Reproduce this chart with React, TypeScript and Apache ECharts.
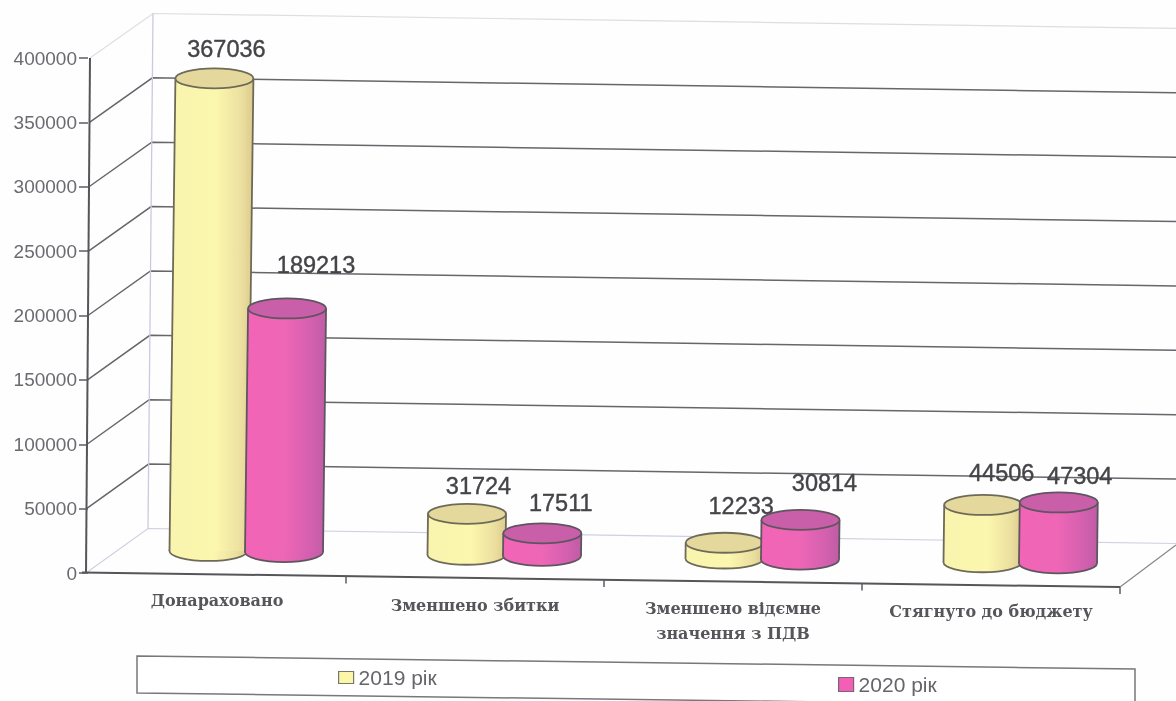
import React, { useEffect, useRef } from "react";
import * as echarts from "echarts";

const categories = [
  "Донараховано",
  "Зменшено збитки",
  "Зменшено відємне\nзначення з ПДВ",
  "Стягнуто до бюджету",
];
const series2019 = [367036, 31724, 12233, 44506];
const series2020 = [189213, 17511, 30814, 47304];
const yTicks = [0, 50000, 100000, 150000, 200000, 250000, 300000, 350000, 400000];
const seriesNames = ["2019 рік", "2020 рік"];

const GRID = { left: 88, top: 58, width: 1032, height: 515 };
const SLOPE = 0.0146;
const FRONT_SLOPE = 0.0136;
const DEPTH = 23.8;
const RX = 39;
const RY = 10;
const LEAN = 0.0125;
const RIGHT_EDGE = 1176;
const CAT_LABEL_PAD = [0, 5, 8, 11];

const LOOK = [
  {
    offset: -8.5,
    body: [
      [0, "#f9f4ae"],
      [0.55, "#fcf7ae"],
      [0.85, "#ece0a0"],
      [1, "#dccb8c"],
    ],
    top: "#e5d89c",
    edge: "#6e6a58",
    labels: [
      [12, -29.4],
      [11.5, -27.9],
      [16.5, -36.8],
      [18.5, -32],
    ],
  },
  {
    offset: 67,
    body: [
      [0, "#f264b6"],
      [0.5, "#ee66b6"],
      [0.85, "#d060ae"],
      [1, "#bf5ca6"],
    ],
    top: "#c85fa8",
    edge: "#5f5560",
    labels: [
      [29, -43.5],
      [18.5, -30.3],
      [24, -36.9],
      [21, -26.5],
    ],
  },
];

const cylinderItem = (look: (typeof LOOK)[number]) => (params: any, api: any) => {
  const cat = api.value(0);
  const v = api.value(1);
  const zero = api.coord([cat, 0]);
  const h = zero[1] - api.coord([cat, v])[1];
  const bx = zero[0] + look.offset;
  const by = zero[1] - DEPTH + (bx - GRID.left) * SLOPE;
  const tx = bx + h * LEAN;
  const ty = by - h;
  const body = new echarts.graphic.LinearGradient(
    0,
    0,
    1,
    0,
    look.body.map(([offset, color]) => ({ offset: offset as number, color: color as string }))
  );
  const edge = { stroke: look.edge, lineWidth: 1.8 };
  const lab = look.labels[params.dataIndex];
  return {
    type: "group",
    children: [
      { type: "ellipse", shape: { cx: bx, cy: by, rx: RX, ry: RY }, style: { fill: body, ...edge } },
      {
        type: "polygon",
        shape: {
          points: [
            [bx - RX, by],
            [tx - RX, ty],
            [tx + RX, ty],
            [bx + RX, by],
          ],
        },
        style: { fill: body },
      },
      { type: "line", shape: { x1: bx - RX, y1: by, x2: tx - RX, y2: ty }, style: edge },
      { type: "line", shape: { x1: bx + RX, y1: by, x2: tx + RX, y2: ty }, style: edge },
      { type: "ellipse", shape: { cx: tx, cy: ty, rx: RX, ry: RY }, style: { fill: look.top, ...edge } },
      {
        type: "text",
        style: {
          text: String(v),
          x: tx + lab[0],
          y: ty + lab[1],
          align: "center",
          verticalAlign: "middle",
          font: "23.5px 'Liberation Sans', Arial, sans-serif",
          fill: "#444448",
          stroke: "#444448",
          lineWidth: 0.4,
        },
      },
    ],
  };
};

const wallItem = (_: any, api: any) => {
  const v = api.value(0);
  const y = api.coord([0, v])[1];
  const frac = v / 400000;
  const fx = 86 + 4 * frac;
  const bx = 148 + 5 * frac;
  const by = y - 44.5;
  const edge = v === 0 || v === 400000;
  const color = v === 400000 ? "#dddde4" : edge ? "#cfd0e2" : "#66666c";
  const width = edge ? 1.2 : 1.5;
  return {
    type: "group",
    children: [
      {
        type: "polyline",
        shape: {
          points: [
            [fx, y],
            [bx, by],
            [RIGHT_EDGE, by + (RIGHT_EDGE - bx) * SLOPE],
          ],
        },
        style: { fill: "none", stroke: color, lineWidth: width },
      },
    ],
  };
};

const frameItem = (_: any, api: any) => {
  const y0 = api.coord([0, 0])[1];
  const y1 = api.coord([0, 400000])[1];
  const dark = { stroke: "#55555a", lineWidth: 2 };
  const end = GRID.left + GRID.width;
  const endY = y0 + GRID.width * FRONT_SLOPE;
  const ticks = [1, 2, 3, 4].map((i) => {
    const x = GRID.left + (GRID.width * i) / 4;
    const yy = y0 + (x - GRID.left) * FRONT_SLOPE;
    return { type: "line", shape: { x1: x, y1: yy, x2: x, y2: yy + 7 }, style: { stroke: "#5c5c62", lineWidth: 1.5 } };
  });
  return {
    type: "group",
    children: [
      { type: "line", shape: { x1: 148, y1: y0 - 44.5, x2: 153, y2: y1 - 44.5 }, style: { stroke: "#c9cadf", lineWidth: 1.3 } },
      { type: "line", shape: { x1: end, y1: endY, x2: RIGHT_EDGE, y2: endY - 42 }, style: { stroke: "#85858a", lineWidth: 1.2 } },
      { type: "line", shape: { x1: 86, y1: y0, x2: 90, y2: y1 }, style: dark },
      { type: "line", shape: { x1: 82, y1: y0 - 0.5, x2: end, y2: endY }, style: dark },
      ...ticks,
    ],
  };
};

export default function App() {
  const ref = useRef<HTMLDivElement>(null);
  useEffect(() => {
    const chart = echarts.init(ref.current!, null, { renderer: "svg" });
    chart.setOption({
      animation: false,
      backgroundColor: "#fefefe",
      grid: GRID,
      xAxis: {
        type: "category",
        data: categories.map((value, i) => ({
          value,
          textStyle: { padding: [CAT_LABEL_PAD[i], 0, 0, 0] },
        })),
        axisLine: { show: false },
        axisTick: { show: false },
        splitLine: { show: false },
        axisLabel: {
          interval: 0,
          margin: 15,
          lineHeight: 25,
          align: "center",
          fontFamily: "'DejaVu Serif', serif",
          fontWeight: "bold",
          fontSize: 16,
          color: "#55555a",
        },
      },
      yAxis: {
        type: "value",
        min: 0,
        max: 400000,
        interval: 50000,
        axisLine: { show: false },
        axisTick: { show: true, length: 9, lineStyle: { color: "#5c5c62", width: 1.5 } },
        splitLine: { show: false },
        axisLabel: {
          margin: 11,
          formatter: (v: number) => String(v),
          fontFamily: "'Liberation Sans', Arial, sans-serif",
          fontSize: 19,
          color: "#6a6a70",
        },
      },
      legend: [
        {
          left: 333,
          top: 662,
          icon: "rect",
          itemWidth: 15,
          itemHeight: 12,
          itemGap: 8,
          textStyle: { fontFamily: "'Liberation Sans', Arial, sans-serif", fontSize: 21, color: "#66666a" },
          data: [{ name: seriesNames[0], itemStyle: { color: "#fbf6a8", borderColor: "#77776a", borderWidth: 1.2 } }],
        },
        {
          left: 833,
          top: 669,
          icon: "rect",
          itemWidth: 15,
          itemHeight: 14,
          itemGap: 8,
          textStyle: { fontFamily: "'Liberation Sans', Arial, sans-serif", fontSize: 21, color: "#66666a" },
          data: [{ name: seriesNames[1], itemStyle: { color: "#f25fb5", borderColor: "#77667a", borderWidth: 1.2 } }],
        },
      ],
      graphic: [
        {
          type: "polygon",
          z: -1,
          shape: {
            points: [
              [137, 656],
              [1135, 669],
              [1135, 706],
              [137, 693],
            ],
          },
          style: { fill: "#ffffff", stroke: "#77777c", lineWidth: 1.5 },
        },
      ],
      series: [
        {
          type: "custom",
          name: "wall",
          z: 1,
          coordinateSystem: "cartesian2d",
          renderItem: wallItem,
          encode: { y: 0 },
          data: yTicks.map((v) => [v]),
          silent: true,
        },
        {
          type: "custom",
          name: "frame",
          z: 1,
          coordinateSystem: "cartesian2d",
          renderItem: frameItem,
          encode: { y: 0 },
          data: [[0]],
          silent: true,
        },
        ...[series2019, series2020].map((vals, s) => ({
          type: "custom",
          name: seriesNames[s],
          z: 2 + s,
          coordinateSystem: "cartesian2d",
          renderItem: cylinderItem(LOOK[s]),
          encode: { x: 0, y: 1 },
          itemStyle: { color: s === 0 ? "#fbf6a8" : "#f25fb5" },
          data: vals.map((v, i) => [i, v]),
        })),
      ],
    });
    return () => chart.dispose();
  }, []);
  return (
    <div
      ref={ref}
      style={{ position: "absolute", left: 0, top: 0, width: 1176, height: 701, filter: "blur(0.7px)" }}
    />
  );
}
